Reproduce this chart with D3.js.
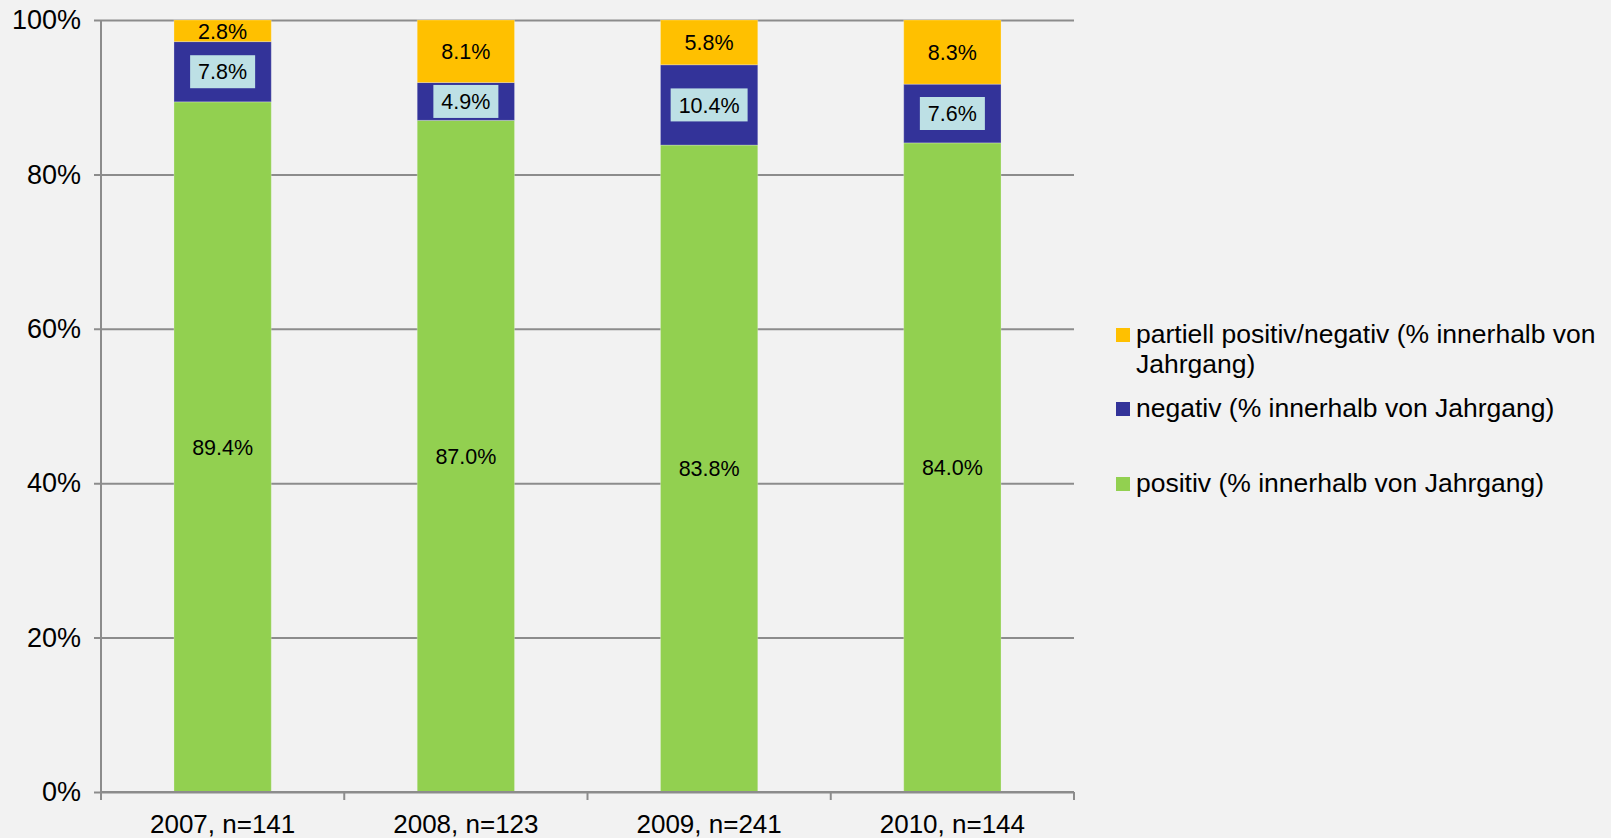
<!DOCTYPE html>
<html>
<head>
<meta charset="utf-8">
<script src="https://cdn.jsdelivr.net/npm/d3@7"></script>
<style>
    html, body { margin: 0; padding: 0; background: #F2F2F2; }
    svg { display: block; font-family: "Liberation Sans", Arial, sans-serif; }
</style>
</head>
<body>
<svg id="chart" width="1611" height="838"></svg>
<script>
const categories = ["2007, n=141", "2008, n=123", "2009, n=241", "2010, n=144"];
const positiv = [89.4, 87.0, 83.8, 84.0];
const negativ = [7.8, 4.9, 10.4, 7.6];
const partiell = [2.8, 8.1, 5.8, 8.3];
const yTicks = [0, 0.2, 0.4, 0.6, 0.8, 1];

const seriesKeys = ["positiv", "negativ", "partiell"];
const seriesColors = { positiv: "#92D050", negativ: "#333399", partiell: "#FFC000" };
const legendLabels = [
    { key: "partiell", lines: ["partiell positiv/negativ (% innerhalb von", "Jahrgang)"] },
    { key: "negativ", lines: ["negativ (% innerhalb von Jahrgang)"] },
    { key: "positiv", lines: ["positiv (% innerhalb von Jahrgang)"] }
];

const tableData = categories.map((c, i) => ({
    category: c,
    positiv: positiv[i],
    negativ: negativ[i],
    partiell: partiell[i]
}));

const margin = { top: 20, right: 537, bottom: 46, left: 101 };
const svg = d3.select("#chart");
const width = 1611 - margin.left - margin.right;
const height = 838 - margin.top - margin.bottom;
const axisColor = "#8C8C8C";

const chartArea = svg.append("g")
    .attr("transform", `translate(${margin.left},${margin.top})`);

const xScale = d3.scaleBand()
    .domain(categories)
    .range([0, width])
    .paddingInner(0.6)
    .paddingOuter(0.3);
const yScale = d3.scaleLinear()
    .domain([0, 1])
    .range([height, 0]);

// gridlines + y axis
const yAxis = d3.axisLeft(yScale)
    .tickValues(yTicks)
    .tickFormat(d3.format(".0%"))
    .tickSizeOuter(0)
    .tickPadding(14);
const yAxisG = chartArea.append("g")
    .attr("class", "axis y-axis")
    .attr("transform", `translate(-7,0)`)
    .call(yAxis);
yAxisG.select(".domain").remove();
yAxisG.selectAll(".tick line")
    .attr("stroke", axisColor)
    .attr("stroke-width", 2)
    .attr("x1", 0).attr("x2", width + 7);
yAxisG.selectAll(".tick text")
    .attr("x", -13)
    .attr("font-size", 27)
    .attr("fill", "#000")
    .attr("font-family", "Liberation Sans, Arial, sans-serif");

chartArea.append("line")
    .attr("x1", 0).attr("x2", 0)
    .attr("y1", 0).attr("y2", height)
    .attr("stroke", axisColor).attr("stroke-width", 2);

// bars
const stack = d3.stack().keys(seriesKeys).offset(d3.stackOffsetExpand);
const stacked = stack(tableData);

const layers = chartArea.selectAll(".layer")
    .data(stacked)
    .join("g")
    .attr("class", "layer")
    .attr("fill", d => seriesColors[d.key]);

layers.selectAll("rect")
    .data(d => d)
    .join("rect")
    .attr("x", d => xScale(d.data.category))
    .attr("width", xScale.bandwidth())
    .attr("y", d => yScale(d[1]))
    .attr("height", d => yScale(d[0]) - yScale(d[1]))
    .attr("stroke", "rgba(255,255,255,0.25)")
    .attr("stroke-width", 1);

// data labels
const labelSize = 21.5;
stacked.forEach(layer => {
    layer.forEach(d => {
        const cx = xScale(d.data.category) + xScale.bandwidth() / 2;
        const cy = (yScale(d[0]) + yScale(d[1])) / 2;
        const label = d3.format(".1f")(d.data[layer.key]) + "%";
        const g = chartArea.append("g").attr("class", "data-label");
        const t = g.append("text")
            .attr("x", cx)
            .attr("y", cy)
            .attr("dy", "0.36em")
            .attr("text-anchor", "middle")
            .attr("font-size", labelSize)
            .attr("fill", "#000")
            .text(label);
        if (layer.key === "negativ") {
            const bb = t.node().getBBox();
            g.insert("rect", "text")
                .attr("x", cx - bb.width / 2 - 8)
                .attr("y", cy - 16.5)
                .attr("width", bb.width + 16)
                .attr("height", 33)
                .attr("fill", "#BDE0E5");
        }
    });
});

// x axis
const xAxisG = chartArea.append("g")
    .attr("class", "axis x-axis")
    .attr("transform", `translate(0,${height})`);
xAxisG.append("line")
    .attr("x1", 0).attr("x2", width)
    .attr("stroke", axisColor).attr("stroke-width", 2);
const step = width / categories.length;
xAxisG.selectAll(".cat-tick")
    .data(d3.range(categories.length + 1))
    .join("line")
    .attr("class", "cat-tick")
    .attr("x1", i => i * step).attr("x2", i => i * step)
    .attr("y1", 0).attr("y2", 8)
    .attr("stroke", axisColor).attr("stroke-width", 2);
xAxisG.selectAll(".cat-label")
    .data(categories)
    .join("text")
    .attr("class", "cat-label")
    .attr("x", d => xScale(d) + xScale.bandwidth() / 2)
    .attr("y", 41)
    .attr("text-anchor", "middle")
    .attr("font-size", 26)
    .attr("fill", "#000")
    .text(d => d);

// legend
const legendX = 1116;
const legendRows = [343, 417, 492];
const legend = svg.append("g").attr("class", "legend");
legendLabels.forEach((item, i) => {
    const y = legendRows[i];
    legend.append("rect")
        .attr("x", legendX)
        .attr("y", y - 15)
        .attr("width", 14)
        .attr("height", 14)
        .attr("fill", seriesColors[item.key]);
    item.lines.forEach((line, j) => {
        legend.append("text")
            .attr("x", legendX + 20)
            .attr("y", y + j * 30)
            .attr("font-size", 26.5)
            .attr("fill", "#000")
            .text(line);
    });
});
</script>
</body>
</html>
